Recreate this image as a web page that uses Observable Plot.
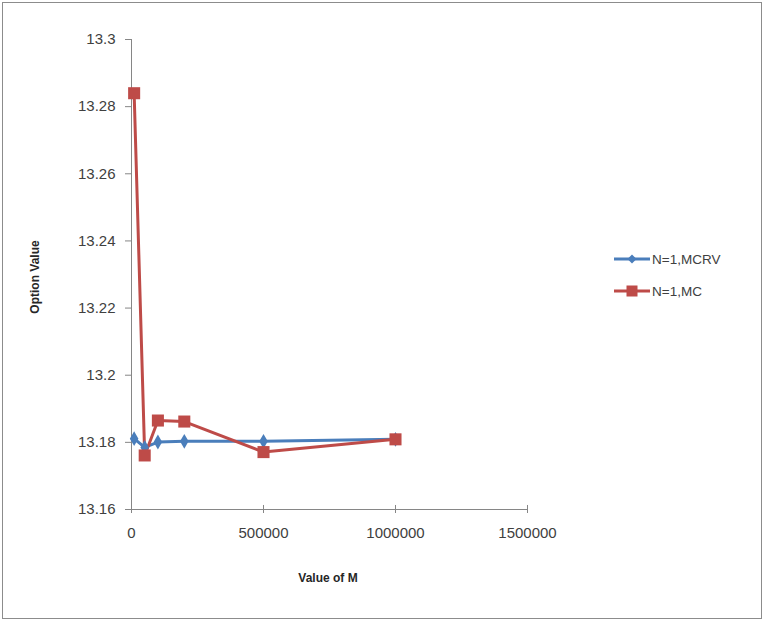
<!DOCTYPE html>
<html>
<head>
<meta charset="utf-8">
<script src="https://cdn.jsdelivr.net/npm/d3@7"></script>
<script src="https://cdn.jsdelivr.net/npm/@observablehq/plot@0.6"></script>
<style>
  html, body { margin: 0; padding: 0; background: #fff; }
  #wrap { position: relative; width: 766px; height: 623px; font-family: "Liberation Sans", Arial, sans-serif; }
  #frame { position: absolute; left: 2px; top: 2px; width: 760px; height: 617px; border: 1px solid #8c8c8c; box-sizing: border-box; pointer-events: none; }
  #chart { position: absolute; left: 0; top: 0; }
  #legend { position: absolute; left: 614px; top: 249px; font-size: 13.5px; color: #404040; }
  .item { display: flex; align-items: center; height: 20px; margin-bottom: 12px; }
  .item svg { margin-right: 2px; }
</style>
</head>
<body>
<div id="wrap">
  <div id="chart"></div>
  <div id="legend"></div>
  <div id="frame"></div>
</div>
<script>
// Data
const mValues = [10000, 50000, 100000, 200000, 500000, 1000000];
const mcrv = [13.1811, 13.1785, 13.1801, 13.1803, 13.1803, 13.1809];
const mc = [13.2840, 13.1761, 13.1865, 13.1862, 13.1771, 13.1809];
const seriesNames = ["N=1,MCRV", "N=1,MC"];
const seriesColors = ["#4A7EBB", "#BE4B48"];
const xTicks = [0, 500000, 1000000, 1500000];
const yTicks = [13.16, 13.18, 13.2, 13.22, 13.24, 13.26, 13.28, 13.3];
const xLabel = "Value of M";
const yLabel = "Option Value";

const rows = [];
mValues.forEach((m, i) => {
  rows.push({series: seriesNames[0], m, v: mcrv[i]});
  rows.push({series: seriesNames[1], m, v: mc[i]});
});
const blue = rows.filter(d => d.series === seriesNames[0]);
const red = rows.filter(d => d.series === seriesNames[1]);
const yMin = yTicks[0], yMax = yTicks[yTicks.length - 1];
const axisColor = "#868686";

const chart = Plot.plot({
  width: 766,
  height: 623,
  marginLeft: 131,
  marginRight: 239,
  marginTop: 39,
  marginBottom: 114,
  style: {fontFamily: "Liberation Sans, Arial, sans-serif", fontSize: "15px", color: "#404040", background: "transparent"},
  x: {domain: [0, 1500000]},
  y: {domain: [yMin, yMax]},
  marks: [
    Plot.axisX({ticks: xTicks, tickSize: 4, tickPadding: 14, tickFormat: d => String(d), stroke: axisColor, fill: "#404040", label: null}),
    Plot.ruleX(xTicks, {y1: yMin, y2: yMin + 0.0012, stroke: axisColor}),
    Plot.axisY({ticks: yTicks, tickSize: 6, tickPadding: 10, tickFormat: d => String(+d.toFixed(2)), stroke: axisColor, fill: "#404040", label: null}),
    Plot.ruleX([0], {stroke: axisColor}),
    Plot.ruleY([yMin], {stroke: axisColor}),
    Plot.line(blue, {x: "m", y: "v", stroke: seriesColors[0], strokeWidth: 3}),
    Plot.line(red, {x: "m", y: "v", stroke: seriesColors[1], strokeWidth: 3}),
    Plot.dot(blue, {x: "m", y: "v", symbol: "diamond", r: 4.5, fill: seriesColors[0], stroke: "none"}),
    Plot.dot(red, {x: "m", y: "v", symbol: "square", r: 6.8, fill: seriesColors[1], stroke: "none"})
  ]
});
document.getElementById("chart").appendChild(chart);

// axis titles
const svg = d3.select(chart);
svg.append("text").attr("x", 328).attr("y", 582).attr("text-anchor", "middle")
  .attr("font-weight", "bold").attr("font-size", 12).attr("fill", "#262626").text(xLabel);
svg.append("text").attr("transform", "translate(39,277) rotate(-90)").attr("text-anchor", "middle")
  .attr("font-weight", "bold").attr("font-size", 12).attr("fill", "#262626").text(yLabel);

// legend
const legend = document.getElementById("legend");
seriesNames.forEach((name, i) => {
  const item = document.createElement("div");
  item.className = "item";
  const marker = i === 0
    ? `<path d="M18,5.5 L22.5,10 L18,14.5 L13.5,10 Z" fill="${seriesColors[0]}"/>`
    : `<rect x="12.5" y="4.5" width="11" height="11" fill="${seriesColors[1]}"/>`;
  item.innerHTML = `<svg width="36" height="20"><line x1="0" y1="10" x2="36" y2="10" stroke="${seriesColors[i]}" stroke-width="3"/>${marker}</svg><span>${name}</span>`;
  legend.appendChild(item);
});
</script>
</body>
</html>
